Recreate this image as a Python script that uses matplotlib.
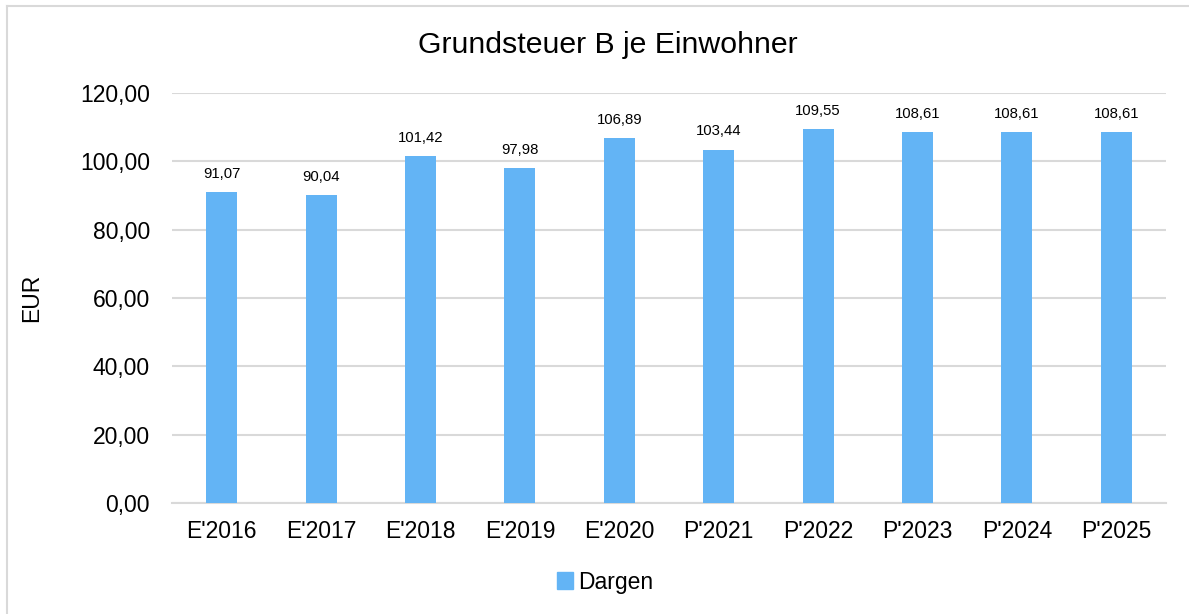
import matplotlib
matplotlib.use("Agg")
import matplotlib.pyplot as plt
from matplotlib.patches import Rectangle
from matplotlib.lines import Line2D

categories = ["E'2016", "E'2017", "E'2018", "E'2019", "E'2020",
              "P'2021", "P'2022", "P'2023", "P'2024", "P'2025"]
values = [91.07, 90.04, 101.42, 97.98, 106.89, 103.44, 109.55, 108.61, 108.61, 108.61]
yticks = [0, 20, 40, 60, 80, 100, 120]
series_name = "Dargen"
title = "Grundsteuer B je Einwohner"
ylabel = "EUR"

plt.rcParams['font.family'] = ['Liberation Sans', 'DejaVu Sans']
W, H = 1189, 614
fig = plt.figure(figsize=(W / 100, H / 100), dpi=100)
bar_color = "#63B4F5"
grid_color = "#D9D9D9"

# outer frame (cut off at right and bottom)
fig.add_artist(Line2D([7 / W, 7 / W], [0, 1 - 6 / H], transform=fig.transFigure,
                      color=grid_color, lw=1.5))
fig.add_artist(Line2D([7 / W, 1], [1 - 6 / H, 1 - 6 / H], transform=fig.transFigure,
                      color=grid_color, lw=1.5))

ax = fig.add_axes([172 / W, 1 - 503 / H, (1166 - 172) / W, (503 - 93) / H])
x = range(len(categories))
bars = ax.bar(x, values, width=0.31, color=bar_color, zorder=3, label=series_name)
ax.set_xlim(-0.5, len(categories) - 0.5)
ax.set_ylim(0, 120)
ax.set_yticks(yticks)
ax.set_yticklabels([f"{v:.2f}".replace('.', ',') for v in yticks], fontsize=16.5)
ax.set_xticks(list(x))
ax.set_xticklabels(categories, fontsize=16.5)
ax.tick_params(axis='both', length=0)
ax.tick_params(axis='y', pad=16)
ax.tick_params(axis='x', pad=12)
ax.grid(axis='y', color=grid_color, lw=1.5, zorder=0)
for s in ['top', 'right', 'left']:
    ax.spines[s].set_visible(False)
ax.spines['bottom'].set_color(grid_color)
ax.spines['bottom'].set_linewidth(1.5)

for xi, v in zip(x, values):
    ax.annotate(f"{v:.2f}".replace('.', ','), (xi, v), xytext=(0, 8),
                textcoords='offset points', ha='center', va='bottom', fontsize=10.7)

fig.text(608 / W, 1 - 45 / H, title, ha='center', va='center', fontsize=21.8)
fig.text(32 / W, 1 - 298 / H, ylabel, ha='center', va='center', rotation=90, fontsize=16.5)

handle = Rectangle((0, 0), 1, 1, color=bar_color)
fig.legend([handle], [series_name], loc='center', bbox_to_anchor=(605 / W, 1 - 582 / H),
           frameon=False, fontsize=16.5, handlelength=0.7, handleheight=0.7,
           handletextpad=0.25)

fig.savefig("out.png", dpi=100)
